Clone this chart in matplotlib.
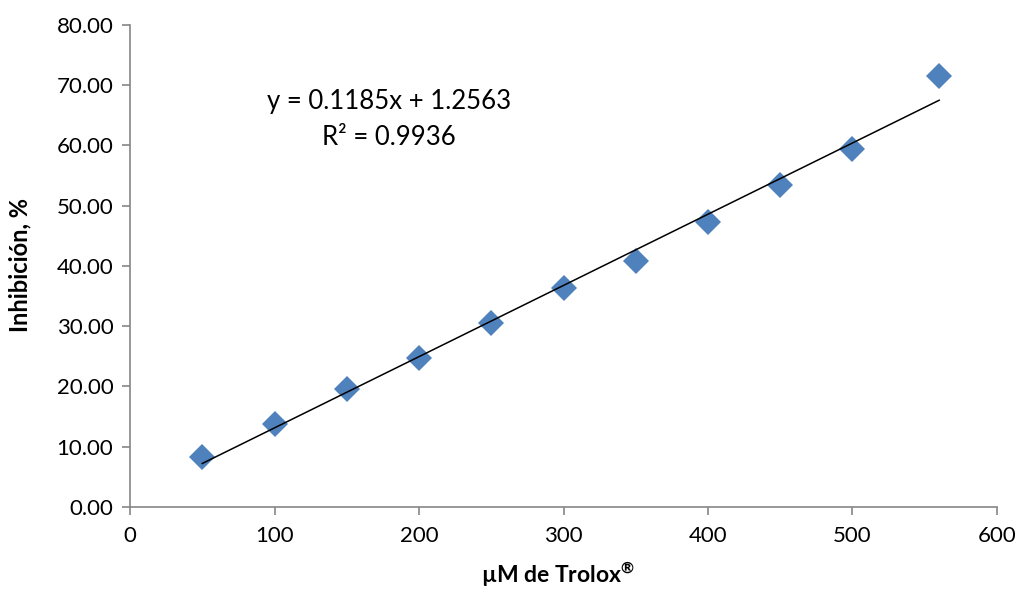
import numpy as np
import matplotlib
matplotlib.use("Agg")
import matplotlib.pyplot as plt

plt.rcParams['font.family'] = ['Lato', 'DejaVu Sans']
plt.rcParams['mathtext.default'] = 'regular'

trolox_um = [50, 100, 150, 200, 250, 300, 350, 400, 450, 500, 560]
inhibicion = [8.3, 13.8, 19.6, 24.7, 30.5, 36.4, 40.8, 47.3, 53.4, 59.4, 71.5]
x_ticks = [0, 100, 200, 300, 400, 500, 600]
y_ticks = [0, 10, 20, 30, 40, 50, 60, 70, 80]
equation_text = "y = 0.1185x + 1.2563\nR² = 0.9936"

fig = plt.figure(figsize=(10.19, 5.92), dpi=100)
ax = fig.add_axes([0.1276, 0.1436, 0.8508, 0.8142])

x = np.array(trolox_um, dtype=float)
y = np.array(inhibicion, dtype=float)
slope, intercept = np.polyfit(x, y, 1)
xl = np.array([x.min(), x.max()])
ax.plot(xl, slope * xl + intercept, color='black', lw=1.1, zorder=3)
ax.plot(x, y, linestyle='none', marker='D', markersize=13, color='#4F81BD',
        markeredgewidth=0, zorder=2)

ax.set_xlim(0, 600)
ax.set_ylim(0, 80)
ax.set_xticks(x_ticks)
ax.set_yticks(y_ticks)
ax.set_xticklabels([str(v) for v in x_ticks])
ax.set_yticklabels([f"{v:.2f}" for v in y_ticks])

for s in ['top', 'right']:
    ax.spines[s].set_visible(False)
for s in ['left', 'bottom']:
    ax.spines[s].set_color('#868686')
    ax.spines[s].set_linewidth(1.2)
ax.tick_params(axis='both', direction='out', length=6, width=1.2, color='#868686',
               labelsize=16, labelcolor='black')
ax.tick_params(axis='x', pad=8)
ax.tick_params(axis='y', pad=6)

ax.set_xlabel("µM de Trolox$^{®}$", fontsize=16.5, fontweight='bold')
ax.set_ylabel("Inhibición, %", fontsize=17, fontweight='bold')
ax.xaxis.label.set_verticalalignment('center')
ax.xaxis.set_label_coords(558 / 1019, 1 - 575 / 592, transform=fig.transFigure)
ax.yaxis.set_label_coords(20 / 1019, 1 - 265 / 592, transform=fig.transFigure)
ax.yaxis.label.set_verticalalignment('center')

ax.text(179, 64.3, equation_text, ha='center', va='center', fontsize=18.5,
        linespacing=1.55)

fig.savefig("out.png", dpi=100)
